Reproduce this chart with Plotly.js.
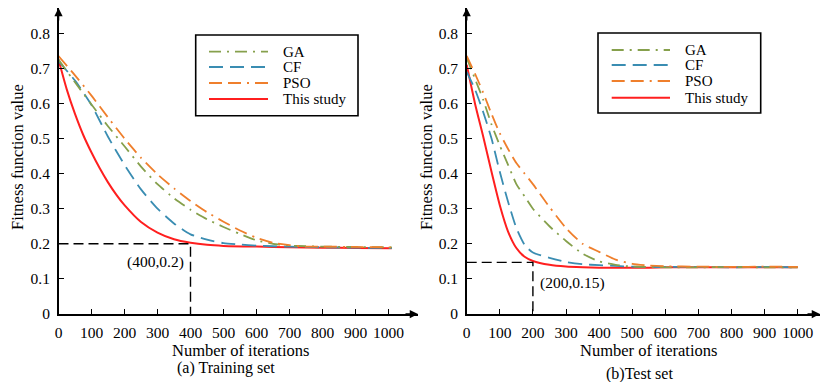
<!DOCTYPE html>
<html>
<head>
<meta charset="utf-8">
<script src="https://cdn.plot.ly/plotly-3.0.1.min.js"></script>
<style>html,body{margin:0;padding:0;background:#fff;}#chart{width:821px;height:382px;}</style>
</head>
<body>
<div id="chart"></div>
<script>
// ---------- data ----------
const seriesNames = ["GA", "CF", "PSO", "This study"];
const xTicks = [0, 100, 200, 300, 400, 500, 600, 700, 800, 900, 1000];
const yTicks = [0, 0.1, 0.2, 0.3, 0.4, 0.5, 0.6, 0.7, 0.8];

// (a) Training set
const iterTrain = [0, 50, 100, 150, 200, 250, 300, 350, 400, 450, 500, 550, 600, 650, 700, 750, 800, 900, 1010];
const gaTrain   = [0.725, 0.66, 0.597, 0.535, 0.478, 0.42, 0.37, 0.33, 0.297, 0.27, 0.248, 0.228, 0.21, 0.2, 0.195, 0.193, 0.192, 0.191, 0.19];
const cfTrain   = [0.72, 0.665, 0.595, 0.505, 0.425, 0.355, 0.3, 0.258, 0.227, 0.212, 0.202, 0.198, 0.195, 0.193, 0.192, 0.191, 0.19, 0.189, 0.188];
const psoTrain  = [0.735, 0.68, 0.622, 0.56, 0.5, 0.445, 0.398, 0.358, 0.322, 0.29, 0.263, 0.238, 0.217, 0.203, 0.196, 0.192, 0.192, 0.191, 0.19];
const iterTrainOurs = [0, 25, 50, 75, 100, 125, 150, 175, 200, 250, 300, 350, 400, 450, 500, 600, 700, 800, 900, 1010];
const oursTrain = [0.725, 0.64, 0.57, 0.51, 0.46, 0.415, 0.375, 0.34, 0.31, 0.262, 0.232, 0.213, 0.203, 0.197, 0.194, 0.192, 0.19, 0.189, 0.188, 0.187];
const markTrain = {x: 400, y: 0.2, label: "(400,0.2)"};

// (b) Test set
const iterTest = [0, 25, 50, 75, 100, 125, 150, 175, 200, 250, 300, 350, 400, 450, 500, 550, 600, 700, 800, 900, 1000];
const gaTest   = [0.73, 0.67, 0.61, 0.54, 0.48, 0.425, 0.37, 0.335, 0.3, 0.25, 0.208, 0.172, 0.15, 0.14, 0.135, 0.134, 0.133, 0.133, 0.134, 0.133, 0.133];
const cfTest   = [0.69, 0.64, 0.575, 0.5, 0.405, 0.32, 0.245, 0.197, 0.175, 0.16, 0.148, 0.142, 0.139, 0.137, 0.135, 0.134, 0.134, 0.134, 0.133, 0.134, 0.133];
const psoTest  = [0.735, 0.685, 0.63, 0.57, 0.515, 0.47, 0.43, 0.4, 0.37, 0.305, 0.245, 0.2, 0.177, 0.155, 0.143, 0.138, 0.136, 0.135, 0.134, 0.135, 0.134];
const oursTest = [0.71, 0.6, 0.505, 0.405, 0.31, 0.235, 0.188, 0.163, 0.151, 0.14, 0.135, 0.133, 0.132, 0.132, 0.132, 0.132, 0.133, 0.133, 0.133, 0.133, 0.133];
const markTest = {x: 200, y: 0.147, label: "(200,0.15)"};

// ---------- styles ----------
const W = 821, H = 382;
const FONT = "Liberation Serif, Times New Roman, serif";
const styles = {
  "GA":         {color: "#86a04c", dash: "12px,6px,2px,6px", width: 1.8},
  "CF":         {color: "#3a8db2", dash: "14px,7px", width: 1.8},
  "PSO":        {color: "#ef7f2c", dash: "13px,6px,13px,6px,2px,6px", width: 1.8},
  "This study": {color: "#ff1f1f", dash: "solid", width: 2}
};
const px = v => v / W;          // pixel x -> paper
const py = v => 1 - v / H;      // pixel y -> paper

const panels = [
  {xa: "x", ya: "y", iters: [iterTrain, iterTrain, iterTrain, iterTrainOurs], series: [gaTrain, cfTrain, psoTrain, oursTrain], mark: markTrain,
   dom: [px(58.5), px(418)], xmax: (418 - 58.5) / 0.33,
   legend: {x0: 195.7, x1: 358, y0: 35, y1: 115.7, lx0: 209, lx1: 268, tx: 281, rows: [51.7, 67, 83, 99]},
   xtitle: {x: 240, y: 350}, cap: {x: 226, y: 368, text: "(a) Training set"}, ytitle: {x: 18, y: 157},
   markLbl: {x: 155, y: 262}},
  {xa: "x2", ya: "y2", iters: [iterTest, iterTest, iterTest, iterTest], series: [gaTest, cfTest, psoTest, oursTest], mark: markTest,
   dom: [px(466.7), px(820)], xmax: (820 - 466.7) / 0.331,
   legend: {x0: 598, x1: 760.7, y0: 33, y1: 113, lx0: 611.7, lx1: 670, tx: 683.3, rows: [50, 65, 81, 97.7]},
   xtitle: {x: 648, y: 350}, cap: {x: 639, y: 374, text: "(b)Test set"}, ytitle: {x: 427, y: 157},
   markLbl: {x: 572.7, y: 283}}
];

const yDom = [py(314), py(8)];
const yMax = 306 / 351;

const traces = [];
const shapes = [];
const annotations = [];
const layout = {
  width: W, height: H,
  margin: {l: 0, r: 0, t: 0, b: 0},
  paper_bgcolor: "#fff", plot_bgcolor: "#fff",
  showlegend: false,
  font: {family: FONT, size: 15, color: "#000"}
};

const drawOrder = [3, 1, 0, 2];
panels.forEach((p, i) => {
  drawOrder.forEach(k => {
    const name = seriesNames[k], s = styles[name];
    traces.push({
      type: "scatter", mode: "lines", name: name,
      x: p.iters[k], y: p.series[k], xaxis: p.xa, yaxis: p.ya,
      line: {color: s.color, width: s.width, dash: s.dash, shape: "spline", smoothing: 0.6},
      hoverinfo: "skip"
    });
  });
  // guide lines
  traces.push({
    type: "scatter", mode: "lines", x: [0, p.mark.x, p.mark.x], y: [p.mark.y, p.mark.y, 0],
    xaxis: p.xa, yaxis: p.ya, line: {color: "#000", width: 1.4, dash: "10px,5px"}, hoverinfo: "skip"
  });
  const sfx = i === 0 ? "" : "2";
  layout["xaxis" + sfx] = {
    domain: p.dom, range: [0, p.xmax], anchor: "y" + sfx,
    showline: true, linecolor: "#000", linewidth: 1.5, mirror: false,
    showgrid: false, zeroline: false,
    ticks: "inside", ticklen: 5, tickwidth: 1, tickcolor: "#000",
    tickvals: xTicks, ticktext: xTicks.map(String),
    tickfont: {family: FONT, size: 15.5, color: "#000"}, ticklabelstandoff: 4
  };
  layout["yaxis" + sfx] = {
    domain: yDom, range: [0, yMax], anchor: "x" + sfx,
    showline: true, linecolor: "#000", linewidth: 1.5,
    showgrid: false, zeroline: false,
    ticks: "inside", ticklen: 5, tickwidth: 1, tickcolor: "#000",
    tickvals: yTicks, ticktext: yTicks.map(String),
    tickfont: {family: FONT, size: 15.5, color: "#000"}, ticklabelstandoff: 4
  };
  // axis arrows
  annotations.push({xref: "paper", yref: "paper", x: p.dom[0], y: yDom[1], ax: 0, ay: 14, axref: "pixel", ayref: "pixel",
    text: "", showarrow: true, arrowhead: 2, arrowsize: 1.1, arrowwidth: 1.5, arrowcolor: "#000"});
  annotations.push({xref: "paper", yref: "paper", x: p.dom[1], y: yDom[0], ax: -14, ay: 0, axref: "pixel", ayref: "pixel",
    text: "", showarrow: true, arrowhead: 2, arrowsize: 1.1, arrowwidth: 1.5, arrowcolor: "#000"});
  // titles
  annotations.push({xref: "paper", yref: "paper", x: px(p.xtitle.x), y: py(p.xtitle.y), text: "Number of iterations",
    showarrow: false, xanchor: "center", yanchor: "middle", font: {family: FONT, size: 16.5, color: "#000"}});
  annotations.push({xref: "paper", yref: "paper", x: px(p.cap.x), y: py(p.cap.y), text: p.cap.text,
    showarrow: false, xanchor: "center", yanchor: "middle", font: {family: FONT, size: 16, color: "#000"}});
  annotations.push({xref: "paper", yref: "paper", x: px(p.ytitle.x), y: py(p.ytitle.y), text: "Fitness function value",
    showarrow: false, textangle: -90, xanchor: "center", yanchor: "middle", font: {family: FONT, size: 16.5, color: "#000"}});
  annotations.push({xref: "paper", yref: "paper", x: px(p.markLbl.x), y: py(p.markLbl.y), text: p.mark.label,
    showarrow: false, xanchor: "center", yanchor: "middle", font: {family: FONT, size: 15.5, color: "#000"}});
  // legend box
  const L = p.legend;
  shapes.push({type: "rect", xref: "paper", yref: "paper", x0: px(L.x0), x1: px(L.x1), y0: py(L.y1), y1: py(L.y0),
    line: {color: "#000", width: 1.6}, fillcolor: "#fff", layer: "above"});
  seriesNames.forEach((name, k) => {
    const s = styles[name];
    shapes.push({type: "line", xref: "paper", yref: "paper", x0: px(L.lx0), x1: px(L.lx1), y0: py(L.rows[k]), y1: py(L.rows[k]),
      line: {color: s.color, width: s.width, dash: s.dash}, layer: "above"});
    annotations.push({xref: "paper", yref: "paper", x: px(L.tx), y: py(L.rows[k]), text: name, showarrow: false,
      xanchor: "left", yanchor: "middle", font: {family: FONT, size: 15, color: "#000"}});
  });
});
layout.shapes = shapes;
layout.annotations = annotations;

Plotly.newPlot("chart", traces, layout, {displayModeBar: false, staticPlot: true});
</script>
</body>
</html>
